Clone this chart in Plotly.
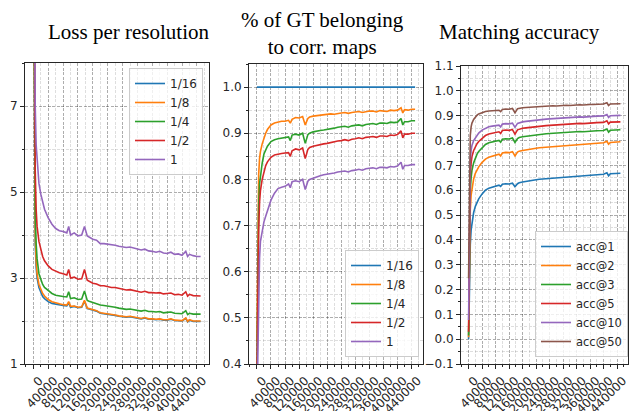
import plotly.graph_objects as go

steps = [0, 2500, 5000, 7500, 10000, 15000, 20000, 25000, 30000, 40000, 50000, 60000, 70000, 80000,
         90000, 95000, 100000, 110000, 120000, 130000, 137500, 145000, 150000, 160000, 170000, 180000,
         190000, 200000, 210000, 220000, 230000, 240000, 250000, 260000, 270000, 280000, 290000, 300000,
         310000, 320000, 330000, 340000, 350000, 360000, 370000, 380000, 390000, 400000, 410000, 415000,
         420000, 430000, 440000, 450000]

# ---- Loss per resolution ----
loss_names = ["1/16", "1/8", "1/4", "1/2", "1"]
loss_1_16 = [12, 6.2, 3.8, 3.25, 3.0, 2.78, 2.65, 2.57, 2.52, 2.45, 2.41, 2.39, 2.37, 2.36, 2.35, 2.42, 2.32,
             2.34, 2.31, 2.32, 2.46, 2.29, 2.28, 2.25, 2.23, 2.18, 2.17, 2.16, 2.14, 2.13, 2.11, 2.10, 2.09,
             2.10, 2.08, 2.07, 2.05, 2.07, 2.04, 2.04, 2.03, 2.04, 2.02, 2.02, 2.04, 2.01, 2.01, 2.00, 2.06,
             1.98, 2.02, 1.99, 1.99, 1.99]
loss_1_8 = [12, 6.5, 4.0, 3.4, 3.1, 2.85, 2.72, 2.64, 2.58, 2.5, 2.45, 2.42, 2.4, 2.38, 2.37, 2.45, 2.34,
            2.35, 2.32, 2.33, 2.48, 2.3, 2.29, 2.26, 2.24, 2.19, 2.18, 2.17, 2.15, 2.14, 2.12, 2.11, 2.1,
            2.11, 2.09, 2.08, 2.06, 2.08, 2.05, 2.05, 2.04, 2.05, 2.03, 2.03, 2.05, 2.02, 2.02, 2.01, 2.07,
            1.99, 2.03, 2.0, 2.0, 2.0]
loss_1_4 = [13, 7.5, 4.5, 3.8, 3.45, 3.1, 2.95, 2.85, 2.78, 2.7, 2.64, 2.6, 2.58, 2.57, 2.56, 2.68, 2.52,
            2.54, 2.5, 2.51, 2.7, 2.48, 2.46, 2.43, 2.41, 2.37, 2.36, 2.35, 2.33, 2.32, 2.3, 2.29, 2.27,
            2.28, 2.26, 2.25, 2.23, 2.25, 2.22, 2.22, 2.21, 2.22, 2.19, 2.2, 2.21, 2.18, 2.18, 2.17, 2.24,
            2.15, 2.18, 2.16, 2.16, 2.16]
loss_1_2 = [14, 8.5, 5.5, 4.6, 4.2, 3.85, 3.65, 3.5, 3.4, 3.28, 3.2, 3.15, 3.12, 3.1, 3.07, 3.2, 3.0,
            3.02, 2.97, 2.98, 3.2, 2.95, 2.92, 2.88, 2.86, 2.82, 2.82, 2.8, 2.78, 2.78, 2.76, 2.74, 2.72,
            2.73, 2.71, 2.7, 2.67, 2.69, 2.66, 2.66, 2.65, 2.66, 2.63, 2.64, 2.65, 2.61, 2.62, 2.6, 2.68,
            2.58, 2.62, 2.59, 2.58, 2.58]
loss_1 = [14, 9.0, 7.0, 6.1, 5.7, 5.2, 4.95, 4.75, 4.6, 4.4, 4.25, 4.15, 4.1, 4.08, 4.05, 4.2, 4.0,
          4.05, 3.98, 4.0, 4.2, 3.98, 3.95, 3.9, 3.88, 3.8, 3.8, 3.79, 3.77, 3.76, 3.74, 3.73, 3.71,
          3.72, 3.7, 3.68, 3.65, 3.67, 3.63, 3.62, 3.6, 3.62, 3.58, 3.57, 3.6, 3.55, 3.56, 3.53, 3.62,
          3.5, 3.55, 3.52, 3.5, 3.5]

# ---- % of GT belonging to corr. maps ----
gt_1_16 = [1.0] * 54
gt_1_8 = [0.45, 0.72, 0.81, 0.845, 0.86, 0.877, 0.89, 0.9, 0.908, 0.918, 0.922, 0.924, 0.926, 0.926, 0.928,
          0.922, 0.93, 0.934, 0.933, 0.936, 0.918, 0.932, 0.935, 0.937, 0.938, 0.939, 0.94, 0.94, 0.942,
          0.941, 0.943, 0.944, 0.945, 0.943, 0.945, 0.946, 0.947, 0.945, 0.947, 0.948, 0.948, 0.946, 0.949,
          0.948, 0.947, 0.95, 0.949, 0.95, 0.955, 0.944, 0.951, 0.95, 0.952, 0.952]
gt_1_4 = [0.38, 0.6, 0.74, 0.79, 0.81, 0.835, 0.855, 0.866, 0.872, 0.882, 0.886, 0.888, 0.889, 0.89, 0.892,
          0.884, 0.896, 0.898, 0.896, 0.9, 0.878, 0.897, 0.9, 0.903, 0.905, 0.906, 0.907, 0.908, 0.91,
          0.911, 0.913, 0.914, 0.915, 0.913, 0.916, 0.917, 0.918, 0.916, 0.919, 0.92, 0.921, 0.919, 0.922,
          0.922, 0.921, 0.924, 0.923, 0.924, 0.932, 0.918, 0.925, 0.925, 0.927, 0.927]
gt_1_2 = [0.37, 0.55, 0.69, 0.75, 0.775, 0.8, 0.818, 0.83, 0.838, 0.848, 0.853, 0.855, 0.856, 0.857, 0.858,
          0.85, 0.862, 0.866, 0.864, 0.868, 0.845, 0.865, 0.869, 0.872, 0.874, 0.876, 0.877, 0.878, 0.88,
          0.881, 0.883, 0.884, 0.886, 0.884, 0.887, 0.888, 0.89, 0.888, 0.891, 0.892, 0.893, 0.891, 0.894,
          0.894, 0.893, 0.896, 0.895, 0.897, 0.905, 0.89, 0.898, 0.898, 0.9, 0.9]
gt_1 = [0.3, 0.42, 0.56, 0.63, 0.665, 0.69, 0.708, 0.72, 0.733, 0.755, 0.77, 0.78, 0.783, 0.785, 0.79,
        0.782, 0.795, 0.797, 0.795, 0.8, 0.778, 0.796, 0.8, 0.803, 0.806, 0.808, 0.81, 0.811, 0.813,
        0.814, 0.816, 0.817, 0.818, 0.816, 0.819, 0.82, 0.822, 0.82, 0.823, 0.824, 0.825, 0.823, 0.826,
        0.826, 0.825, 0.828, 0.827, 0.829, 0.837, 0.822, 0.83, 0.83, 0.832, 0.832]

# ---- Matching accuracy ----
acc_names = ["acc@1", "acc@2", "acc@3", "acc@5", "acc@10", "acc@50"]
acc_1 = [0.0, 0.25, 0.38, 0.44, 0.47, 0.51, 0.535, 0.55, 0.565, 0.585, 0.6, 0.608, 0.613, 0.617, 0.62,
         0.615, 0.624, 0.626, 0.625, 0.628, 0.614, 0.626, 0.63, 0.633, 0.636, 0.638, 0.64, 0.642, 0.644,
         0.645, 0.647, 0.648, 0.65, 0.649, 0.652, 0.653, 0.654, 0.653, 0.656, 0.657, 0.658, 0.657, 0.66,
         0.66, 0.661, 0.663, 0.663, 0.664, 0.67, 0.658, 0.666, 0.667, 0.668, 0.668]
acc_2 = [0.008, 0.38, 0.52, 0.58, 0.61, 0.645, 0.668, 0.682, 0.694, 0.712, 0.725, 0.733, 0.738, 0.742, 0.745,
         0.738, 0.75, 0.752, 0.751, 0.755, 0.738, 0.753, 0.757, 0.76, 0.763, 0.765, 0.767, 0.769, 0.771,
         0.772, 0.774, 0.775, 0.777, 0.776, 0.779, 0.78, 0.781, 0.78, 0.783, 0.784, 0.785, 0.784, 0.787,
         0.787, 0.788, 0.79, 0.79, 0.791, 0.797, 0.785, 0.792, 0.793, 0.794, 0.795]
acc_3 = [0.015, 0.45, 0.6, 0.65, 0.68, 0.71, 0.73, 0.745, 0.756, 0.772, 0.784, 0.791, 0.795, 0.798, 0.8,
         0.793, 0.805, 0.807, 0.806, 0.81, 0.792, 0.808, 0.812, 0.815, 0.817, 0.819, 0.821, 0.822, 0.824,
         0.825, 0.827, 0.828, 0.829, 0.828, 0.831, 0.832, 0.833, 0.832, 0.834, 0.835, 0.836, 0.835, 0.837,
         0.837, 0.838, 0.839, 0.839, 0.84, 0.846, 0.834, 0.841, 0.842, 0.843, 0.843]
acc_5 = [0.03, 0.52, 0.66, 0.71, 0.735, 0.76, 0.775, 0.787, 0.796, 0.81, 0.82, 0.826, 0.83, 0.833, 0.835,
         0.828, 0.84, 0.842, 0.841, 0.844, 0.826, 0.843, 0.846, 0.849, 0.851, 0.853, 0.855, 0.856, 0.858,
         0.859, 0.86, 0.861, 0.862, 0.861, 0.864, 0.865, 0.866, 0.865, 0.867, 0.868, 0.869, 0.868, 0.87,
         0.87, 0.871, 0.872, 0.872, 0.873, 0.879, 0.867, 0.874, 0.875, 0.875, 0.875]
acc_10 = [0.077, 0.6, 0.72, 0.76, 0.78, 0.8, 0.812, 0.822, 0.83, 0.842, 0.85, 0.855, 0.858, 0.86, 0.862,
          0.855, 0.866, 0.868, 0.867, 0.87, 0.853, 0.869, 0.872, 0.875, 0.877, 0.879, 0.88, 0.882, 0.883,
          0.884, 0.886, 0.887, 0.888, 0.887, 0.89, 0.891, 0.892, 0.891, 0.893, 0.894, 0.895, 0.894, 0.896,
          0.896, 0.897, 0.898, 0.898, 0.899, 0.905, 0.893, 0.9, 0.9, 0.901, 0.901]
acc_50 = [0.245, 0.72, 0.82, 0.855, 0.87, 0.885, 0.895, 0.902, 0.907, 0.913, 0.917, 0.919, 0.92, 0.921, 0.922,
          0.916, 0.925, 0.927, 0.926, 0.929, 0.912, 0.928, 0.93, 0.932, 0.933, 0.934, 0.935, 0.936, 0.937,
          0.937, 0.938, 0.939, 0.94, 0.939, 0.941, 0.941, 0.942, 0.941, 0.943, 0.943, 0.944, 0.943, 0.945,
          0.945, 0.945, 0.946, 0.946, 0.947, 0.952, 0.941, 0.947, 0.947, 0.948, 0.948]

x_ticks = [0, 40000, 80000, 120000, 160000, 200000, 240000, 280000, 320000, 360000, 400000, 440000]
x_tick_labels = [str(v) for v in x_ticks]
y1_ticks = [1, 3, 5, 7]
y2_ticks = [0.4, 0.5, 0.6, 0.7, 0.8, 0.9, 1.0]
y3_ticks = [-0.1, 0.0, 0.1, 0.2, 0.3, 0.4, 0.5, 0.6, 0.7, 0.8, 0.9, 1.0, 1.1]

titles = ["Loss per resolution", "% of GT belonging<br>to corr. maps", "Matching accuracy"]
colors = ["#1f77b4", "#ff7f0e", "#2ca02c", "#d62728", "#9467bd", "#8c564b"]

W, H = 631, 411
fig = go.Figure()

loss_series = [loss_1_16, loss_1_8, loss_1_4, loss_1_2, loss_1]
gt_series = [gt_1_16, gt_1_8, gt_1_4, gt_1_2, gt_1]
acc_series = [acc_1, acc_2, acc_3, acc_5, acc_10, acc_50]

for i, (name, ys) in enumerate(zip(loss_names, loss_series)):
    fig.add_trace(go.Scatter(x=steps, y=ys, name=name, mode="lines", xaxis="x", yaxis="y",
                             line=dict(color=colors[i], width=1.6), legend="legend"))
for i, (name, ys) in enumerate(zip(loss_names, gt_series)):
    fig.add_trace(go.Scatter(x=steps, y=ys, name=name, mode="lines", xaxis="x2", yaxis="y2",
                             line=dict(color=colors[i], width=1.6), legend="legend2"))
for i, (name, ys) in enumerate(zip(acc_names, acc_series)):
    fig.add_trace(go.Scatter(x=steps, y=ys, name=name, mode="lines", xaxis="x3", yaxis="y3",
                             line=dict(color=colors[i], width=1.6), legend="legend3"))

tickfont = dict(family="DejaVu Sans", size=12, color="#262626")
DASH = "3px,1.5px"
grid = dict(showgrid=True, gridcolor="rgba(0,0,0,0.22)", griddash=DASH, gridwidth=1,
            showline=True, linecolor="#262626", linewidth=1, mirror=True,
            ticks="outside", ticklen=4, tickcolor="#262626", tickwidth=1,
            zeroline=False, tickfont=tickfont)
minor_style = dict(ticks="outside", ticklen=2, tickcolor="#262626", showgrid=True,
                   gridcolor="rgba(0,0,0,0.13)", griddash=DASH, gridwidth=1)


def xax(left, right, anchor):
    return dict(domain=[left / W, right / W], anchor=anchor, range=[-22500, 472500],
                tickmode="array", tickvals=x_ticks, ticktext=x_tick_labels, tickangle=-45,
                ticklabelshift=6,
                minor=dict(dtick=20000, tick0=0, **minor_style),
                **grid)


def yax(top, bottom, rng, ticks, minor_dtick, anchor, fmt):
    return dict(domain=[(H - bottom) / H, (H - top) / H], anchor=anchor, range=rng,
                tickmode="array", tickvals=ticks, tickformat=fmt,
                minor=dict(dtick=minor_dtick, tick0=0, **minor_style),
                **grid)


legend_style = dict(bgcolor="rgba(255,255,255,0.8)", bordercolor="#cccccc", borderwidth=1,
                    font=dict(family="DejaVu Sans", size=12, color="#262626"),
                    tracegroupgap=0, itemwidth=30)

fig.update_layout(
    width=W, height=H, margin=dict(l=0, r=0, t=0, b=0, autoexpand=False),
    paper_bgcolor="white", plot_bgcolor="white",
    xaxis=xax(25, 209, "y"),
    yaxis=yax(63, 364, [1, 8], y1_ticks, 1, "x", ""),
    xaxis2=xax(249, 423, "y2"),
    yaxis2=yax(64, 364, [0.4, 1.05], y2_ticks, 0.05, "x2", ".1f"),
    xaxis3=xax(461, 628, "y3"),
    yaxis3=yax(66, 364, [-0.1, 1.1], y3_ticks, 0.05, "x3", ".1f"),
    legend=dict(x=203 / W, y=1 - 68 / H, xanchor="right", yanchor="top", **legend_style),
    legend2=dict(x=419 / W, y=1 - 357 / H, xanchor="right", yanchor="bottom", **legend_style),
    legend3=dict(x=628 / W, y=1 - 357 / H, xanchor="right", yanchor="bottom",
                 **{**legend_style, "font": dict(family="DejaVu Sans", size=11.5, color="#262626")}),
    showlegend=True,
)

title_font = dict(family="Liberation Serif", size=21, color="black")
fig.add_annotation(text=titles[0], x=128 / W, y=1 - 32 / H, xref="paper", yref="paper",
                   showarrow=False, font=title_font, xanchor="center", yanchor="middle")
fig.add_annotation(text=titles[1], x=322 / W, y=1 - 33 / H, xref="paper", yref="paper",
                   showarrow=False, font=title_font, xanchor="center", yanchor="middle")
fig.add_annotation(text=titles[2], x=519 / W, y=1 - 32 / H, xref="paper", yref="paper",
                   showarrow=False, font=title_font, xanchor="center", yanchor="middle")

fig.write_html("out.html", config={"displayModeBar": False},
               post_script="document.body.style.margin='0px';document.body.style.overflow='hidden';")
